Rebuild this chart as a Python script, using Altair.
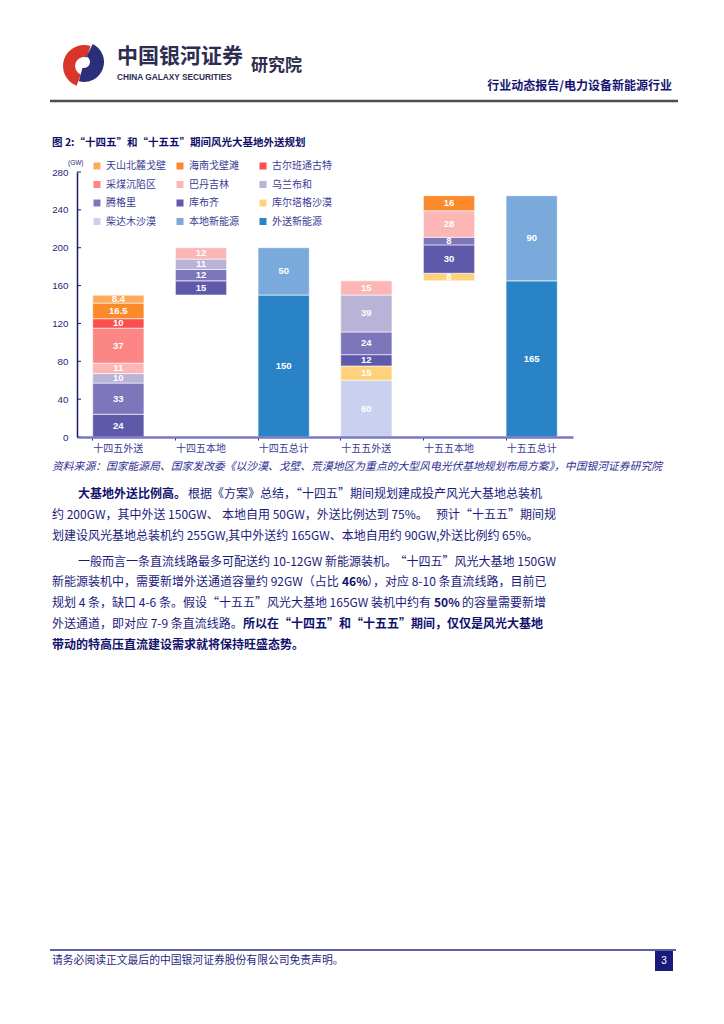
import altair as alt
import pandas as pd

# ---------------- chart data ----------------
categories = ["十四五外送", "十四五本地", "十四五总计", "十五五外送", "十五五本地", "十五五总计"]
series = ["天山北麓戈壁", "海南戈壁滩", "古尔班通古特", "采煤沉陷区", "巴丹吉林", "乌兰布和",
          "腾格里", "库布齐", "库尔塔格沙漠", "柴达木沙漠", "本地新能源", "外送新能源"]
colors = ["#fcaa5c", "#fb8a2c", "#f94f4f", "#fc8585", "#fdb6b6", "#b9b3d8",
          "#7d76ba", "#5f59a9", "#fed27a", "#c9d1ef", "#7aaadc", "#2a83c7"]

# segments, bottom to top within each category
seg_category = (["十四五外送"] * 8 + ["十四五本地"] * 4 + ["十四五总计"] * 2 +
                ["十五五外送"] * 6 + ["十五五本地"] * 5 + ["十五五总计"] * 2)
seg_series = ["库布齐", "腾格里", "乌兰布和", "巴丹吉林", "采煤沉陷区", "古尔班通古特", "海南戈壁滩", "天山北麓戈壁",
              "库布齐", "腾格里", "乌兰布和", "巴丹吉林",
              "外送新能源", "本地新能源",
              "柴达木沙漠", "库尔塔格沙漠", "库布齐", "腾格里", "乌兰布和", "巴丹吉林",
              "库尔塔格沙漠", "库布齐", "腾格里", "巴丹吉林", "海南戈壁滩",
              "外送新能源", "本地新能源"]
seg_value = [24, 33, 10, 11, 37, 10, 16.5, 8.4,
             15, 12, 11, 12,
             150, 50,
             60, 15, 12, 24, 39, 15,
             8, 30, 8, 28, 16,
             165, 90]
bar_base = [0, 150, 0, 0, 165, 0]  # floating start of each column
y_ticks = [0, 40, 80, 120, 160, 200, 240, 280]

# ---------------- page text ----------------
header_cn = "中国银河证券"
header_en = "CHINA GALAXY SECURITIES"
header_inst = "研究院"
header_right = "行业动态报告/电力设备新能源行业"
fig_title = "图 2:“十四五”和“十五五”期间风光大基地外送规划"
unit_text = "(GW)"
source_text = "资料来源：国家能源局、国家发改委《以沙漠、戈壁、荒漠地区为重点的大型风电光伏基地规划布局方案》，中国银河证券研究院"
body_strings = [
    "大基地外送比例高。",
    "根据《方案》总结，“十四五”期间规划建成投产风光大基地总装机",
    "约 200GW，其中外送 150GW、",
    "本地自用 50GW，外送比例达到 75%。",
    "预计“十五五”期间规",
    "划建设风光基地总装机约 255GW,其中外送约 165GW、本地自用约 90GW,外送比例约 65%。",
    "一般而言一条直流线路最多可配送约 10-12GW 新能源装机。",
    "“十四五”风光大基地 150GW",
    "新能源装机中，需要新增外送通道容量约 92GW（占比 ",
    "46%",
    "），对应 8-10 条直流线路，目前已",
    "规划 4 条，缺口 4-6 条。假设“十五五”风光大基地 165GW 装机中约有 ",
    "50%",
    "的容量需要新增",
    "外送通道，即对应 7-9 条直流线路。",
    "所以在“十四五”和“十五五”期间，仅仅是风光大基地",
    "带动的特高压直流建设需求就将保持旺盛态势。",
]
body_bold = [True, False, False, False, False, False, False, False, False, True, False,
             False, True, False, False, True, True]
body_align = ["left", "left", "left", "left", "right", "left", "left", "right", "left", "left",
              "left", "left", "left", "left", "left", "left", "left"]
footer_text = "请务必阅读正文最后的中国银河证券股份有限公司免责声明。"
page_no = "3"

# ---------------- layout (page pixels) ----------------
OX, OY = 77, 172          # plot origin on page
W, H = 496, 265
body_x = [78, 188, 52, 222, 556, 52, 78, 556, 52, 342, 367, 52, 434, 462, 52, 243, 52]
body_y = [494, 494, 515, 515, 515, 536, 562, 562, 582, 582, 582, 603, 603, 603, 624, 624, 645]

NAVY = "#1b1b7d"
CJK = "Noto Sans CJK SC"

# ---------------- build segment table ----------------
rows = []
cursor = {c: b for c, b in zip(categories, bar_base)}
for c, s, v in zip(seg_category, seg_series, seg_value):
    y0 = cursor[c]
    y1 = y0 + v
    cursor[c] = y1
    rows.append({"cat": c, "series": s, "y0": y0, "y1": y1, "mid": (y0 + y1) / 2,
                 "lab": f"{v:g}"})
seg = pd.DataFrame(rows)

x_axis = alt.Axis(title=None, labelAngle=0, labelFont=CJK, labelFontSize=10,
                  labelColor="#3b3b94", domainColor="#7b78c4", domainWidth=2.5,
                  tickColor="#2b2b8a", tickSize=3, bandPosition=0, labelPadding=3,
                  grid=False, zindex=1)
x_scale = alt.Scale(domain=categories, paddingInner=0.38, paddingOuter=0.19)
y_axis = alt.Axis(title=None, values=y_ticks, ticks=False, tickSize=0, labelPadding=9,
                  labelFont="Liberation Sans", labelFontSize=9.8, labelColor="#1f1f7a",
                  domainColor="#1a1a6e", domainWidth=1.5, grid=False, zindex=1)
y_scale = alt.Scale(domain=[0, 280], nice=False)

bars = alt.Chart(seg).mark_bar(stroke="white", strokeWidth=0.6).encode(
    x=alt.X("cat:N", sort=categories, scale=x_scale, axis=x_axis),
    y=alt.Y("y0:Q", scale=y_scale, axis=y_axis),
    y2="y1:Q",
    color=alt.Color("series:N", scale=alt.Scale(domain=series, range=colors),
                    legend=alt.Legend(title=None, orient="none", legendX=15, legendY=-11,
                                      direction="horizontal",
                                      columns=3, symbolType="square", symbolSize=49,
                                      symbolStrokeWidth=0, labelFont=CJK, labelFontSize=10,
                                      labelColor="#3b3b94", labelOffset=4, columnPadding=9,
                                      rowPadding=8.5, gridAlign="all", padding=0)),
)

seg_labels = alt.Chart(seg).mark_text(color="white", fontWeight="bold",
                                      font="Liberation Sans", fontSize=9.5).encode(
    x=alt.X("cat:N", sort=categories, scale=x_scale, axis=x_axis),
    y=alt.Y("mid:Q", scale=y_scale, axis=y_axis),
    text="lab:N",
)

ytick_df = pd.DataFrame({"y0": y_ticks})
ytick_rules = alt.Chart(ytick_df).mark_rule(color="#1a1a6e", strokeWidth=1).encode(
    y=alt.Y("y0:Q", scale=y_scale, axis=y_axis),
    x=alt.value(0), x2=alt.value(4),
)

core = alt.layer(bars, ytick_rules, seg_labels)

# ---------------- page decorations ----------------
def px(v):
    return v - OX

def py(v):
    return v - OY

def text_layer(strings, xs, ys, **mark):
    df = pd.DataFrame({"t": strings, "px": [px(v) for v in xs], "py": [py(v) for v in ys]})
    return alt.Chart(df).mark_text(baseline="middle", **mark).encode(
        x=alt.X("px:Q", scale=None, axis=None),
        y=alt.Y("py:Q", scale=None, axis=None),
        text="t:N",
    )

layers = [core]
layers.append(text_layer([header_cn], [117], [57], align="left", font=CJK, fontSize=21,
                         fontWeight="bold", color="#2d2d4f"))
layers.append(text_layer([header_en], [117], [78], align="left",
                         font="Liberation Sans", fontSize=8.3, fontWeight="bold",
                         color="#2d2d4f"))
layers.append(text_layer([header_inst], [251], [66], align="left", font=CJK, fontSize=17,
                         fontWeight="bold", color="#2d2d4f"))
layers.append(text_layer([header_right], [672], [86], align="right", font=CJK, fontSize=12,
                         fontWeight="bold", color="#141470"))
layers.append(text_layer([fig_title], [52], [143], align="left", font=CJK, fontSize=10.5,
                         fontWeight="bold", color="#10106a"))
layers.append(text_layer([unit_text], [68], [163], align="left", font="Liberation Sans",
                         fontSize=6.5, color=NAVY))
layers.append(text_layer([source_text], [52], [467], align="left", font=CJK, fontSize=10.8,
                         fontStyle="italic", color="#2e2e96"))
for bold in (False, True):
    for al in ("left", "right"):
        idx = [i for i in range(len(body_strings))
               if body_bold[i] == bold and body_align[i] == al]
        if not idx:
            continue
        layers.append(text_layer([body_strings[i] for i in idx], [body_x[i] for i in idx],
                                 [body_y[i] for i in idx], align=al, font=CJK, fontSize=12,
                                 fontWeight="bold" if bold else "normal",
                                 color="#12126e" if bold else NAVY))
layers.append(text_layer([footer_text], [52], [961], align="left", font=CJK, fontSize=10.8,
                         color="#1f1f80"))

# rules and page-number box
rule_df = pd.DataFrame({"x1": [px(50), px(50)], "x2": [px(678), px(676)],
                        "y": [py(101), py(950)], "c": ["#4d4d4d", "#2a2a88"],
                        "w": [2.5, 1.5]})
for i in range(len(rule_df)):
    layers.append(alt.Chart(rule_df.iloc[[i]]).mark_rule(
        color=rule_df["c"].iloc[i], strokeWidth=float(rule_df["w"].iloc[i])).encode(
        x=alt.X("x1:Q", scale=None, axis=None), x2="x2:Q",
        y=alt.Y("y:Q", scale=None, axis=None)))

box_df = pd.DataFrame({"x1": [px(655)], "x2": [px(673)], "y1": [py(951)], "y2": [py(971)]})
layers.append(alt.Chart(box_df).mark_rect(color="#1a1a7e").encode(
    x=alt.X("x1:Q", scale=None, axis=None), x2="x2:Q",
    y=alt.Y("y1:Q", scale=None, axis=None), y2="y2:Q"))
layers.append(text_layer([page_no], [664], [961], align="center", font="Liberation Sans",
                         fontSize=10, color="white"))

# logo (two arcs)
one = pd.DataFrame({"k": [0]})
layers.append(alt.Chart(one).mark_arc(color="#d9362b", theta=3.5, theta2=6.6, radius=21,
                                      radius2=9).encode(x=alt.value(px(84)), y=alt.value(py(66))))
layers.append(alt.Chart(one).mark_arc(color="#2b2f7a", theta=0.45, theta2=3.4, radius=20,
                                      radius2=6).encode(x=alt.value(px(84)), y=alt.value(py(62))))

chart = alt.layer(*layers).resolve_scale(x="independent", y="independent").properties(
    width=W, height=H,
    autosize=alt.AutoSizeParams(type="none"),
    padding={"left": OX - 8, "top": OY - 8, "right": 708 - (OX - 8) - W,
             "bottom": 990 - (OY - 8) - H},
).configure_view(strokeWidth=0)

chart.save("out.html", embed_options={"renderer": "svg", "actions": False})
